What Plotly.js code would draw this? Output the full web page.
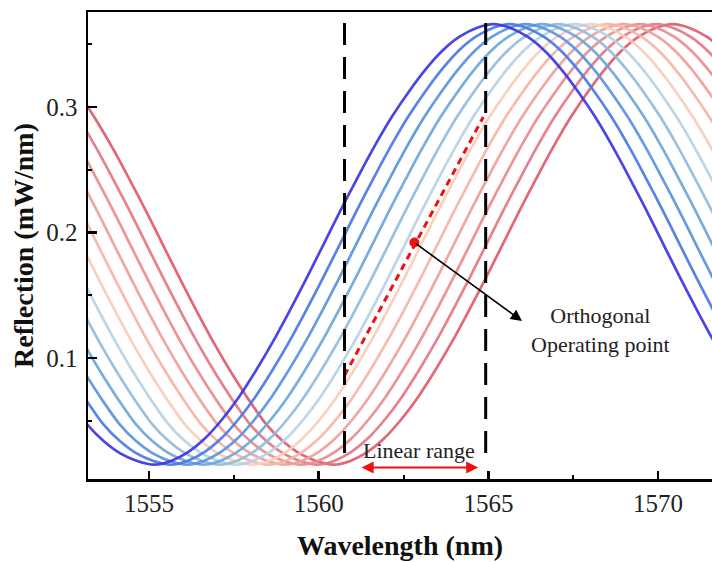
<!DOCTYPE html>
<html>
<head>
<meta charset="utf-8">
<script src="https://cdn.plot.ly/plotly-3.0.1.min.js"></script>
<style>
  html, body { margin: 0; padding: 0; background: #fff; }
  #chart { width: 712px; height: 562px; }
</style>
</head>
<body>
<div id="chart"></div>
<script>
// Reflection spectrum profile: offset from the spectral dip (nm) and reflection (mW/nm)
const profileOffset = [
  -10, -9.5, -9, -8.5, -8, -7.5, -7, -6.5, -6, -5.5, -5, -4.5, -4, -3.5, -3, -2.5, -2, -1.5, -1, -0.5,
  0, 0.5, 1, 1.5, 2, 2.5, 3, 3.5, 4, 4.5, 5, 5.5, 6, 6.5, 7, 7.5, 8, 8.5, 9, 9.5,
  10, 10.5, 11, 11.5, 12, 12.5, 13, 13.5, 14, 14.5, 15, 15.5, 16, 16.5, 17, 17.5, 18
];
const profileValue = [
  0.366, 0.363, 0.356, 0.345, 0.330, 0.311, 0.290, 0.267, 0.242, 0.216, 0.189, 0.162, 0.136, 0.111, 0.088, 0.067, 0.048, 0.034, 0.024, 0.018,
  0.015, 0.018, 0.025, 0.036, 0.051, 0.069, 0.090, 0.113, 0.138, 0.164, 0.191, 0.218, 0.244, 0.269, 0.292, 0.312, 0.330, 0.345, 0.356, 0.363,
  0.366, 0.363, 0.356, 0.345, 0.330, 0.312, 0.292, 0.269, 0.244, 0.218, 0.191, 0.164, 0.138, 0.113, 0.090, 0.069, 0.051
];

// Dip wavelength of each measured spectrum (nm), shifting towards red
const dipWavelength = [1555.15, 1555.63, 1556.11, 1556.59, 1557.07, 1557.55,
                       1558.03, 1558.51, 1558.99, 1559.47, 1559.95, 1560.43];
const curveColors = ['#3a36e0', '#4a78e6', '#5a93e2', '#6ea6da', '#92bcdc', '#b6d2e4',
                     '#f8cdb8', '#f4b5a6', '#ef9f99', '#ea8b8f', '#e57684', '#e05b6b'];

// Linear working range, orthogonal operating point and range arrow
const linearX = [1560.76, 1564.85];
const linearY = [0.086, 0.292];
const opPointX = [1562.82];
const opPointY = [0.192];
const boundaryX = [1560.76, 1564.92];
const boundaryY = [0.367, 0.015];
const rangeArrowX = [1561.22, 1564.70];
const rangeArrowY = 0.0127;

const xTicks = [1555, 1560, 1565, 1570];

const serif = 'Liberation Serif, Times New Roman, serif';

const traces = [];
for (let i = dipWavelength.length - 1; i >= 0; i--) {
  traces.push({
    x: profileOffset.map(o => o + dipWavelength[i]),
    y: profileValue,
    type: 'scatter',
    mode: 'lines',
    line: { color: curveColors[i], width: 2.7, shape: 'spline', smoothing: 0.8 },
    opacity: 0.92,
    hoverinfo: 'skip',
    showlegend: false
  });
}
traces.push({
  x: linearX, y: linearY, type: 'scatter', mode: 'lines',
  line: { color: '#ee1111', width: 3, dash: '7px,5px' },
  showlegend: false, hoverinfo: 'skip'
});
traces.push({
  x: opPointX, y: opPointY, type: 'scatter', mode: 'markers',
  marker: { color: '#ee1111', size: 10 },
  showlegend: false, hoverinfo: 'skip'
});

const shapes = boundaryX.map(x => ({
  type: 'line', xref: 'x', yref: 'y',
  x0: x, x1: x, y0: boundaryY[0], y1: boundaryY[1],
  line: { color: '#000', width: 3, dash: '22px,12px' }
}));

const annotations = [
  {
    x: 1565.99, y: 0.1295, xref: 'x', yref: 'y',
    ax: opPointX[0], ay: opPointY[0], axref: 'x', ayref: 'y',
    showarrow: true, arrowhead: 2, arrowsize: 1.4, arrowwidth: 1.6, arrowcolor: '#000',
    text: ''
  },
  {
    x: 1568.3, y: 0.1225, xref: 'x', yref: 'y',
    text: 'Orthogonal<br>Operating point', showarrow: false,
    font: { family: serif, size: 22, color: '#222' }, align: 'center'
  },
  {
    x: rangeArrowX[1], y: rangeArrowY, xref: 'x', yref: 'y',
    ax: rangeArrowX[0], ay: rangeArrowY, axref: 'x', ayref: 'y',
    showarrow: true, arrowside: 'end+start', arrowhead: 2, arrowsize: 1.2,
    arrowwidth: 2, arrowcolor: '#ee1111', text: ''
  },
  {
    x: (rangeArrowX[0] + rangeArrowX[1]) / 2, y: 0.0265, xref: 'x', yref: 'y',
    text: 'Linear range', showarrow: false,
    font: { family: serif, size: 22, color: '#222' }
  }
];

const layout = {
  width: 712, height: 562,
  margin: { l: 88, r: 0, t: 12, b: 83 },
  paper_bgcolor: '#fff', plot_bgcolor: '#fff',
  showlegend: false,
  xaxis: {
    range: [1553.2, 1571.59],
    tickmode: 'array', tickvals: xTicks, ticktext: xTicks.map(String),
    ticks: 'inside', ticklen: 8, tickwidth: 2.5, tickcolor: '#000',
    minor: { ticks: 'inside', ticklen: 4, tickwidth: 2, tickcolor: '#000', dtick: 2.5, tick0: 1550, showgrid: false },
    showline: true, linewidth: 2.5, linecolor: '#000', mirror: true,
    showgrid: false, zeroline: false,
    tickfont: { family: serif, size: 25, color: '#222' },
    title: { text: '<b>Wavelength (nm)</b>', font: { family: serif, size: 28, color: '#111' }, standoff: 20 }
  },
  yaxis: {
    range: [0.0036, 0.3757],
    tickmode: 'linear', tick0: 0, dtick: 0.1,
    ticks: 'inside', ticklen: 9, tickwidth: 2.5, tickcolor: '#000',
    ticklabelstandoff: 3,
    minor: { ticks: 'inside', ticklen: 4, tickwidth: 2, tickcolor: '#000', dtick: 0.05, tick0: 0, showgrid: false },
    showline: true, linewidth: 2.5, linecolor: '#000', mirror: false,
    showgrid: false, zeroline: false,
    tickfont: { family: serif, size: 25, color: '#222' },
    title: { text: '<b>Reflection (mW/nm)</b>', font: { family: serif, size: 28, color: '#111' }, standoff: 5 }
  },
  shapes: shapes,
  annotations: annotations
};

Plotly.newPlot('chart', traces, layout, { staticPlot: true, displayModeBar: false });
</script>
</body>
</html>
